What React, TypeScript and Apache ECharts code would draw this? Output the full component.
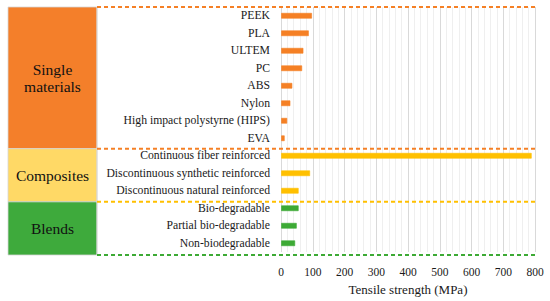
import React, { useEffect, useRef } from "react";
import * as echarts from "echarts";

const categories = [
  "PEEK",
  "PLA",
  "ULTEM",
  "PC",
  "ABS",
  "Nylon",
  "High impact polystyrne (HIPS)",
  "EVA",
  "Continuous fiber reinforced",
  "Discontinuous synthetic reinforced",
  "Discontinuous natural reinforced",
  "Bio-degradable",
  "Partial bio-degradable",
  "Non-biodegradable",
];
const values = [98, 88, 71, 67, 36, 30, 20, 12, 790, 92, 56, 56, 50, 45];
const groupNames = ["Single\nmaterials", "Composites", "Blends"];
const groupSizes = [8, 3, 3];
const barColors = ["#F58025", "#FFC000", "#3DAA35"];
const boxColors = ["#F47F2A", "#FFD966", "#3EAA3C"];
const xTicks = [0, 100, 200, 300, 400, 500, 600, 700, 800];

const FONT = "Liberation Serif";

export default function App() {
  const ref = useRef<HTMLDivElement>(null);
  useEffect(() => {
    if (!ref.current) return;
    const chart = echarts.init(ref.current, undefined, { renderer: "svg" });
    const W = 550;
    const gridLeft = 281;
    const gridRight = 15;
    const gridTop = 7;
    const gridHeight = 248;
    const rowH = gridHeight / categories.length;
    const boxLeft = 8;
    const boxRight = 97;
    const lineRight = W - gridRight;

    const groupIndex: number[] = [];
    groupSizes.forEach((n, g) => {
      for (let i = 0; i < n; i++) groupIndex.push(g);
    });

    const graphics: any[] = [];
    let start = 0;
    groupSizes.forEach((n, g) => {
      const y0 = gridTop + start * rowH;
      const y1 = gridTop + (start + n) * rowH;
      graphics.push({
        type: "rect",
        shape: { x: boxLeft, y: y0, width: boxRight - boxLeft, height: y1 - y0 },
        style: { fill: boxColors[g], stroke: "#d6d6d6", lineWidth: 0.8 },
        z: 1,
      });
      graphics.push({
        type: "text",
        x: (boxLeft + boxRight) / 2,
        y: (y0 + y1) / 2,
        style: {
          text: groupNames[g],
          fill: "#111",
          fontFamily: FONT,
          fontSize: 15.5,
          align: "center",
          verticalAlign: "middle",
          lineHeight: 17,
        },
        z: 3,
      });
      if (g === 0) {
        graphics.push({
          type: "line",
          shape: { x1: boxRight, y1: y0, x2: lineRight, y2: y0 },
          style: { stroke: barColors[g], lineWidth: 2, lineDash: [4, 3] },
          z: 5,
        });
      }
      graphics.push({
        type: "line",
        shape: { x1: boxRight, y1: y1, x2: lineRight, y2: y1 },
        style: { stroke: barColors[g], lineWidth: 2, lineDash: [4, 3] },
        z: 5,
      });
      start += n;
    });
    graphics.push({
      type: "line",
      shape: { x1: boxRight, y1: gridTop, x2: boxRight, y2: gridTop + gridHeight },
      style: { stroke: "#d9d9d9", lineWidth: 1 },
      z: 2,
    });

    const lighten = (c: string) => c + "99";

    chart.setOption({
      animation: false,
      backgroundColor: "#ffffff",
      textStyle: { fontFamily: FONT },
      grid: {
        left: gridLeft,
        right: gridRight,
        top: gridTop,
        height: gridHeight,
        containLabel: false,
      },
      xAxis: {
        type: "value",
        min: xTicks[0],
        max: xTicks[xTicks.length - 1],
        interval: xTicks[1] - xTicks[0],
        name: "Tensile strength (MPa)",
        nameLocation: "middle",
        nameGap: 31,
        nameTextStyle: { fontFamily: FONT, fontSize: 13, color: "#1a1a1a" },
        axisLine: { show: false },
        axisTick: { show: false },
        axisLabel: { fontFamily: FONT, fontSize: 11.5, color: "#1a1a1a", margin: 14 },
        splitLine: { show: true, lineStyle: { color: "#d9d9d9", width: 1 } },
        minorTick: { show: false, splitNumber: 5 },
        minorSplitLine: { show: true, lineStyle: { color: "#efefef", width: 1 } },
      },
      yAxis: {
        type: "category",
        data: categories,
        inverse: true,
        axisLine: { show: false },
        axisTick: { show: false },
        splitLine: { show: false },
        axisLabel: {
          fontFamily: FONT,
          fontSize: 11.7,
          color: "#1a1a1a",
          margin: 11,
          interval: 0,
        },
      },
      series: [
        {
          type: "bar",
          barWidth: 6,
          data: values.map((v, i) => ({
            value: v,
            itemStyle: {
              color: barColors[groupIndex[i]],
              borderColor: lighten(barColors[groupIndex[i]]),
              borderWidth: 1,
            },
          })),
          z: 3,
        },
      ],
      graphic: graphics,
    });
    return () => chart.dispose();
  }, []);
  return (
    <div
      ref={ref}
      style={{ position: "fixed", left: 0, top: 0, width: 550, height: 301 }}
    />
  );
}
